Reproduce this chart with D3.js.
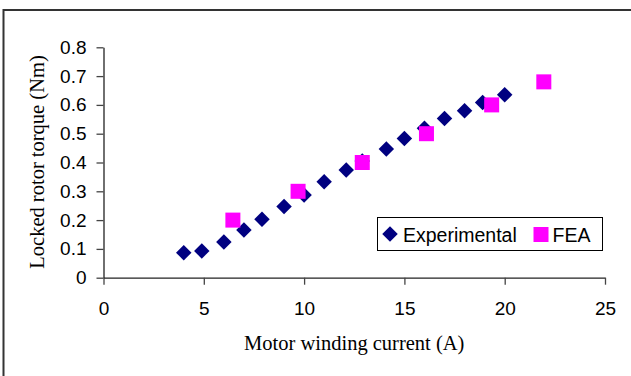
<!DOCTYPE html>
<html>
<head>
<meta charset="utf-8">
<script src="https://cdn.jsdelivr.net/npm/d3@7"></script>
<style>
  html, body { margin: 0; padding: 0; background: #fff; }
  svg { display: block; }
</style>
</head>
<body>
<svg id="chart" width="631" height="376"></svg>
<script>
// Locked rotor torque vs. winding current: measured values and FEA predictions
const experimentalCurrent = [4, 4.9, 6, 7, 7.9, 9, 10, 11, 12.1, 12.9, 14.1, 15, 16, 17, 18, 18.9, 20];
const experimentalTorque  = [0.087, 0.093, 0.124, 0.166, 0.203, 0.247, 0.287, 0.333, 0.374, 0.405, 0.447, 0.483, 0.519, 0.553, 0.58, 0.608, 0.635];
const feaCurrent = [6.45, 9.7, 12.9, 16.1, 19.35, 21.95];
const feaTorque  = [0.2, 0.3, 0.4, 0.5, 0.6, 0.68];
const xTicks = [0, 5, 10, 15, 20, 25];
const yTicks = [0, 0.1, 0.2, 0.3, 0.4, 0.5, 0.6, 0.7, 0.8];
const seriesNames = ["Experimental", "FEA"];

const svg = d3.select("#chart");
const sansFont = "'Liberation Sans', Arial, sans-serif";
const serifFont = "'Liberation Serif', 'Times New Roman', serif";

// outer frame (right/bottom edges run off the canvas)
svg.append("rect")
  .attr("x", 3.5).attr("y", 10)
  .attr("width", 640).attr("height", 400)
  .attr("fill", "none").attr("stroke", "#333").attr("stroke-width", 2);

const plot = { left: 103.5, right: 605, top: 47.3, bottom: 277.7 };

const x = d3.scaleLinear().domain([0, 25]).range([plot.left, plot.right]);
const y = d3.scaleLinear().domain([0, 0.8]).range([plot.bottom, plot.top]);

const yFmt = d => d === 0 ? "0" : d3.format(".1f")(d);

// x axis
const gx = svg.append("g")
  .attr("transform", `translate(0,${plot.bottom})`)
  .call(d3.axisBottom(x).tickValues(xTicks).tickSize(7).tickPadding(17).tickSizeOuter(0));
// y axis
const gy = svg.append("g")
  .attr("transform", `translate(${plot.left},0)`)
  .call(d3.axisLeft(y).tickValues(yTicks).tickFormat(yFmt).tickSize(7).tickPadding(10).tickSizeOuter(0));

[gx, gy].forEach(g => {
  g.select(".domain").attr("stroke", "#222").attr("stroke-width", 1.3);
  g.selectAll(".tick line").attr("stroke", "#444").attr("stroke-width", 1.3);
  g.selectAll(".tick text")
    .attr("font-family", sansFont).attr("font-size", 19).attr("fill", "#000");
});

// axis titles
svg.append("text")
  .attr("x", (plot.left + plot.right) / 2 + 0).attr("y", 350)
  .attr("text-anchor", "middle")
  .attr("font-family", serifFont).attr("font-size", 20.5).attr("fill", "#000")
  .text("Motor winding current (A)");

svg.append("text")
  .attr("transform", `translate(44,162) rotate(-90)`)
  .attr("text-anchor", "middle")
  .attr("font-family", serifFont).attr("font-size", 20.5).attr("fill", "#000")
  .text("Locked rotor torque (Nm)");

const navy = "#000080", magenta = "#ff00ff";
const diamond = d3.symbol().type(d3.symbolSquare).size(120);

// experimental points (diamonds)
svg.append("g").selectAll("path")
  .data(d3.zip(experimentalCurrent, experimentalTorque))
  .join("path")
  .attr("d", diamond)
  .attr("transform", d => `translate(${x(d[0])},${y(d[1])}) rotate(45)`)
  .attr("fill", navy);

// FEA points (squares)
const sq = 15;
svg.append("g").selectAll("rect")
  .data(d3.zip(feaCurrent, feaTorque))
  .join("rect")
  .attr("x", d => x(d[0]) - sq / 2)
  .attr("y", d => y(d[1]) - sq / 2)
  .attr("width", sq).attr("height", sq)
  .attr("fill", magenta);

// legend
const lg = svg.append("g");
lg.append("rect")
  .attr("x", 377.5).attr("y", 217.5).attr("width", 225).attr("height", 33)
  .attr("fill", "#fff").attr("stroke", "#000").attr("stroke-width", 1);
lg.append("path")
  .attr("d", diamond)
  .attr("transform", "translate(390,234) rotate(45)")
  .attr("fill", navy);
lg.append("text")
  .attr("x", 403).attr("y", 241.5)
  .attr("font-family", sansFont).attr("font-size", 19.5).attr("fill", "#000")
  .text(seriesNames[0]);
lg.append("rect")
  .attr("x", 533.5).attr("y", 227).attr("width", sq).attr("height", sq)
  .attr("fill", magenta);
lg.append("text")
  .attr("x", 552.5).attr("y", 241.5)
  .attr("font-family", sansFont).attr("font-size", 19.5).attr("fill", "#000")
  .text(seriesNames[1]);
</script>
</body>
</html>
